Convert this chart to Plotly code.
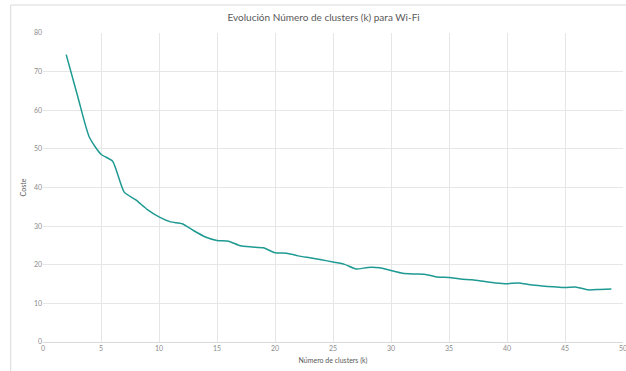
import plotly.graph_objects as go

k_values = list(range(2, 50))
coste = [74.4, 63.5, 53.0, 48.6, 46.8, 38.8, 36.8, 34.3, 32.4, 31.1,
         30.6, 28.8, 27.2, 26.3, 26.1, 24.9, 24.6, 24.4, 23.1, 23.0,
         22.3, 21.8, 21.3, 20.7, 20.1, 18.9, 19.3, 19.2, 18.5, 17.8,
         17.6, 17.5, 16.8, 16.7, 16.3, 16.1, 15.7, 15.3, 15.1, 15.3,
         14.8, 14.5, 14.3, 14.1, 14.2, 13.5, 13.6, 13.7]

x_ticks = list(range(0, 55, 5))
y_ticks = list(range(0, 90, 10))

fig = go.Figure()
fig.add_trace(go.Scatter(
    x=k_values,
    y=coste,
    mode="lines",
    line=dict(color="#1F9A93", width=1.5, shape="spline", smoothing=0.6),
    hoverinfo="x+y",
    showlegend=False,
))

fig.update_layout(
    width=626,
    height=371,
    paper_bgcolor="white",
    plot_bgcolor="white",
    font=dict(family="Lato", color="#8c8c8c", size=7),
    margin=dict(l=43, r=3, t=33, b=29, autoexpand=False),
    title=dict(
        text="Evolución Número de clusters (k) para Wi-Fi",
        x=0.517, xanchor="center", y=0.953, yanchor="middle",
        font=dict(family="Lato", size=10, color="#595959"),
    ),
    xaxis=dict(
        range=[0, 50],
        tickvals=x_ticks,
        automargin=False,
        ticklabeloverflow="allow",
        showgrid=True,
        gridcolor="#e6e6e6",
        gridwidth=1,
        zeroline=False,
        showline=True,
        linecolor="#d9d9d9",
        ticks="",
        tickfont=dict(size=7, color="#8c8c8c"),
        title=dict(text="Número de clusters (k)", standoff=6,
                   font=dict(size=7, color="#595959")),
    ),
    yaxis=dict(
        range=[0, 80],
        tickvals=y_ticks,
        automargin=False,
        showgrid=True,
        gridcolor="#e6e6e6",
        gridwidth=1,
        zeroline=False,
        showline=False,
        ticks="",
        tickfont=dict(size=7, color="#8c8c8c"),
        title=dict(text="Coste", standoff=6,
                   font=dict(size=7, color="#595959")),
    ),
    shapes=[dict(
        type="rect", xref="paper", yref="paper",
        x0=-0.0557, x1=1.02, y0=-0.1, y1=1.0906,
        line=dict(color="#d9d9d9", width=1),
        fillcolor="rgba(0,0,0,0)",
        layer="below",
    )],
)

fig.write_html("out.html", config={"displayModeBar": False},
               post_script="document.body.style.margin='0';")
